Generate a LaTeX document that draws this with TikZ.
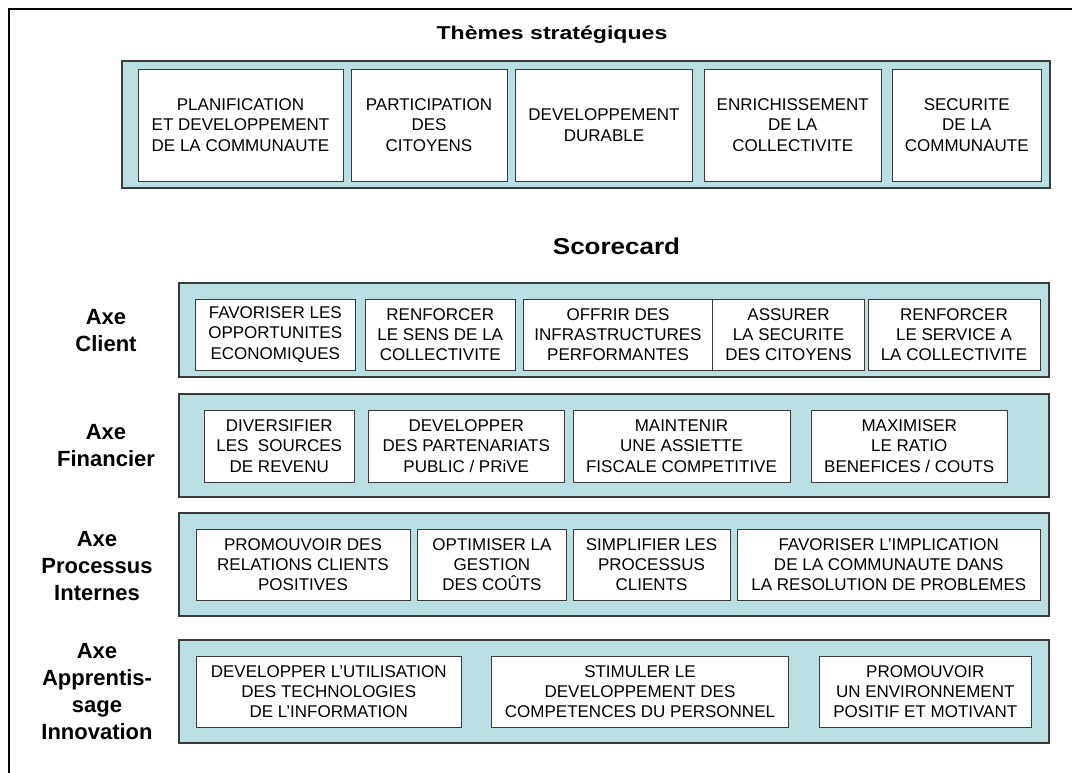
\documentclass[tikz,border=0pt]{standalone}
\usepackage{fontspec}
\setmainfont{Liberation Sans}
\usepackage{graphicx}
\usetikzlibrary{fit}

\definecolor{bandfill}{HTML}{BADFE2}
\definecolor{edgegray}{HTML}{3A3A3A}

\tikzset{
  band/.style={draw=edgegray, line width=1.3pt, fill=bandfill, inner sep=0pt},
  goal/.style={draw=edgegray, line width=0.9pt, fill=white, inner sep=0pt,
    align=center, font=\fontsize{17}{20.3}\selectfont},
  axe/.style={align=center, font=\fontsize{22}{27}\selectfont\bfseries},
  themerow/.style={goal, minimum height=112pt},
  axerow/.style={goal, minimum height=71pt},
}

\begin{document}
\begin{tikzpicture}[x=1pt,y=-1pt]
  \useasboundingbox (0,0) rectangle (1072,773);

  % cadre
  \draw[line width=2pt] (9,773) -- (9,9) -- (1072,9);

  % themes strategiques
  \node[anchor=base] (ttheme) at (552,40)
    {\fontsize{18.6}{22}\selectfont\bfseries\scalebox{1.24}[1]{Thèmes stratégiques}};
  \node[band, fit={(122,61) (1050,188)}] (btheme) {};
  \node[themerow, minimum width=205pt] (t1) at (240.5,125) {PLANIFICATION\\ET DEVELOPPEMENT\\DE LA COMMUNAUTE};
  \node[themerow, minimum width=156pt] (t2) at (429,125) {PARTICIPATION\\DES\\CITOYENS};
  \node[themerow, minimum width=177pt] (t3) at (604,125) {DEVELOPPEMENT\\DURABLE};
  \node[themerow, minimum width=177.5pt] (t4) at (792.75,125) {ENRICHISSEMENT\\DE LA\\COLLECTIVITE};
  \node[themerow, minimum width=149.5pt] (t5) at (966.75,125) {SECURITE\\DE LA\\COMMUNAUTE};

  % scorecard
  \node[anchor=base] (tscore) at (616.5,254.7)
    {\fontsize{23}{27}\selectfont\bfseries\scalebox{1.13}[1]{Scorecard}};

  % axe client
  \node[axe] (lclient) at (106,331) {Axe\\Client};
  \node[band, fit={(179,283) (1049,377)}] (bclient) {};
  \node[axerow, minimum width=160.5pt] (c1) at (275.25,334.5) {FAVORISER LES\\OPPORTUNITES\\ECONOMIQUES};
  \node[axerow, minimum width=150.5pt] (c2) at (440.25,334.5) {RENFORCER\\LE SENS DE LA\\COLLECTIVITE};
  \node[axerow, minimum width=189pt] (c3) at (618,334.5) {OFFRIR DES\\INFRASTRUCTURES\\PERFORMANTES};
  \node[axerow, minimum width=152pt] (c4) at (788.5,334.5) {ASSURER\\LA SECURITE\\DES CITOYENS};
  \node[axerow, minimum width=172pt] (c5) at (954,334.5) {RENFORCER\\LE SERVICE A\\LA COLLECTIVITE};

  % axe financier
  \node[axe] (lfin) at (106,445.5) {Axe\\Financier};
  \node[band, fit={(179,394) (1049,497)}] (bfin) {};
  \node[axerow, minimum height=72pt, minimum width=150.5pt] (f1) at (279.25,446) {DIVERSIFIER\\LES\ \ SOURCES\\DE REVENU};
  \node[axerow, minimum height=72pt, minimum width=195.5pt] (f2) at (466.25,446) {DEVELOPPER\\DES PARTENARIATS\\PUBLIC / PRiVE};
  \node[axerow, minimum height=72pt, minimum width=217pt] (f3) at (681.5,446) {MAINTENIR\\UNE ASSIETTE\\FISCALE COMPETITIVE};
  \node[axerow, minimum height=72pt, minimum width=196.5pt] (f4) at (909.25,446) {MAXIMISER\\LE RATIO\\BENEFICES / COUTS};

  % axe processus internes
  \node[axe] (lproc) at (97,566) {Axe\\Processus\\Internes};
  \node[band, fit={(179,513) (1049,616)}] (bproc) {};
  \node[axerow, minimum width=214pt] (p1) at (303,564.5) {PROMOUVOIR DES\\RELATIONS CLIENTS\\POSITIVES};
  \node[axerow, minimum width=149pt] (p2) at (492,564.5) {OPTIMISER LA\\GESTION\\DES COÛTS};
  \node[axerow, minimum width=157pt] (p3) at (651.5,564.5) {SIMPLIFIER LES\\PROCESSUS\\CLIENTS};
  \node[axerow, minimum width=302.5pt] (p4) at (888.75,564.5) {FAVORISER L’IMPLICATION\\DE LA COMMUNAUTE DANS\\LA RESOLUTION DE PROBLEMES};

  % axe apprentissage innovation
  \node[axe] (lapp) at (97,692) {Axe\\Apprentis-\\sage\\Innovation};
  \node[band, fit={(179,640) (1049,743)}] (bapp) {};
  \node[axerow, minimum width=265.5pt] (a1) at (328.75,691.5) {DEVELOPPER L’UTILISATION\\DES TECHNOLOGIES\\DE L’INFORMATION};
  \node[axerow, minimum width=297pt] (a2) at (640,691.5) {STIMULER LE\\DEVELOPPEMENT DES\\COMPETENCES DU PERSONNEL};
  \node[axerow, minimum width=211.5pt] (a3) at (925.25,691.5) {PROMOUVOIR\\UN ENVIRONNEMENT\\POSITIF ET MOTIVANT};

\end{tikzpicture}
\end{document}
